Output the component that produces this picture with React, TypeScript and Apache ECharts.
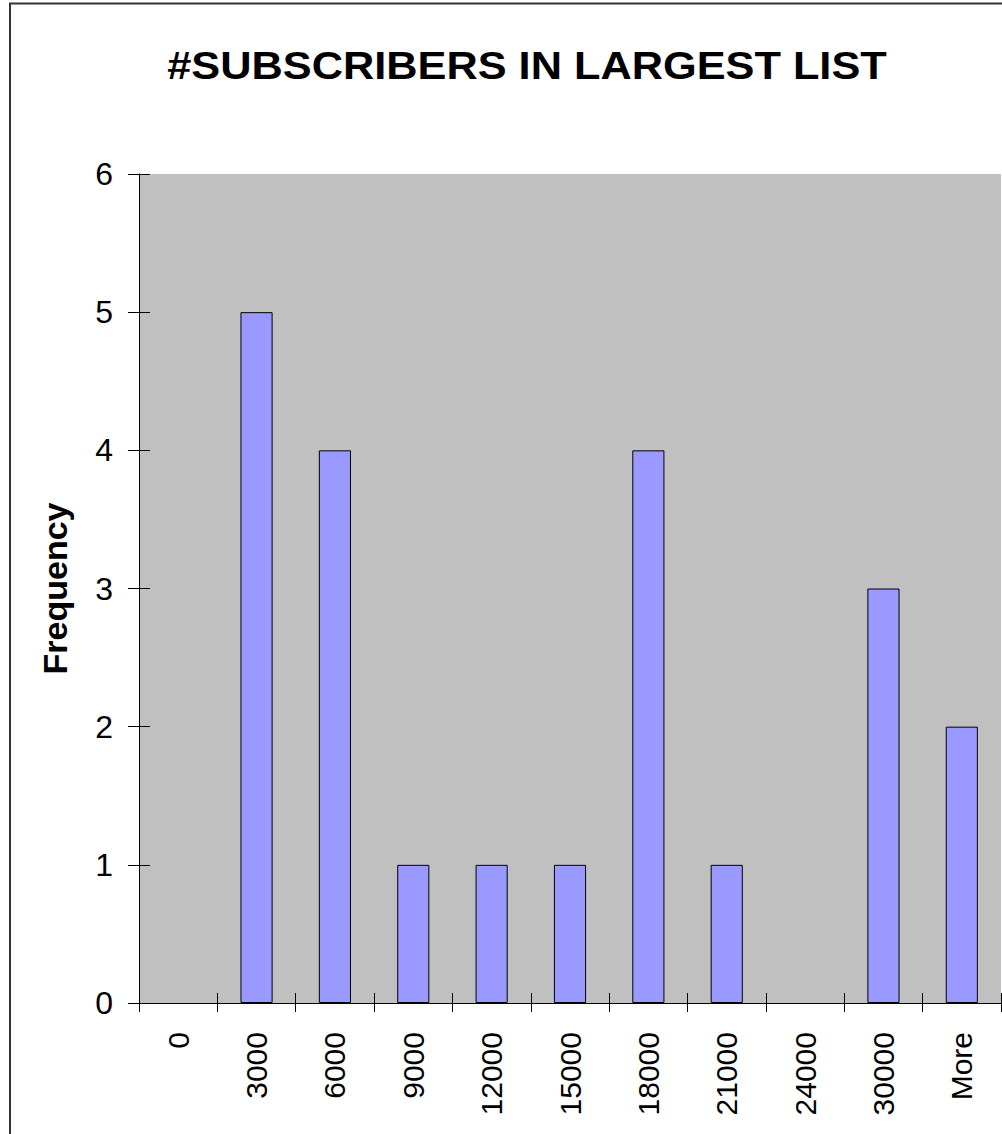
import React, { useEffect, useRef } from "react";
import * as echarts from "echarts";

const categories = ["0", "3000", "6000", "9000", "12000", "15000", "18000", "21000", "24000", "30000", "More"];
const frequency = [0, 5, 4, 1, 1, 1, 4, 1, 0, 3, 2];
const yMin = 0;
const yMax = 6;
const yInterval = 1;
const titleText = "#SUBSCRIBERS IN LARGEST LIST";
const yAxisName = "Frequency";

export default function App() {
  const ref = useRef<HTMLDivElement>(null);
  useEffect(() => {
    const chart = echarts.init(ref.current!, null, { renderer: "svg" });
    const font = "'Liberation Sans', Arial, sans-serif";
    chart.setOption({
      animation: false,
      backgroundColor: "#ffffff",
      grid: {
        left: 139,
        right: 1,
        top: 174,
        bottom: 131,
        show: true,
        backgroundColor: "#C0C0C0",
        borderWidth: 0,
      },
      xAxis: [
        {
          type: "category",
          data: categories,
          position: "bottom",
          boundaryGap: true,
          axisLine: { show: true, lineStyle: { color: "#000", width: 1 } },
          axisTick: { show: true, length: 9, lineStyle: { color: "#000", width: 1 } },
          axisLabel: {
            rotate: 90,
            margin: 29,
            interval: 0,
            fontSize: 30,
            color: "#000",
            fontFamily: font,
          },
          splitLine: { show: false },
        },
        {
          type: "category",
          data: categories,
          position: "bottom",
          boundaryGap: true,
          axisLine: { show: false },
          axisTick: { show: true, inside: true, length: 10, lineStyle: { color: "#000", width: 1 } },
          axisLabel: { show: false },
          splitLine: { show: false },
        },
      ],
      yAxis: [
        {
          type: "value",
          position: "left",
          min: yMin,
          max: yMax,
          interval: yInterval,
          axisLine: { show: true, lineStyle: { color: "#000", width: 1 } },
          axisTick: { show: true, length: 11, lineStyle: { color: "#000", width: 1 } },
          axisLabel: { margin: 26, fontSize: 32, color: "#000", fontFamily: font },
          splitLine: { show: false },
          name: yAxisName,
          nameLocation: "middle",
          nameRotate: 90,
          nameGap: 67,
          nameTextStyle: { fontSize: 34, fontWeight: "bold", color: "#000", fontFamily: font },
        },
        {
          type: "value",
          position: "left",
          min: yMin,
          max: yMax,
          interval: yInterval,
          axisLine: { show: false },
          axisTick: { show: true, inside: true, length: 11, lineStyle: { color: "#000", width: 1 } },
          axisLabel: { show: false },
          splitLine: { show: false },
        },
      ],
      series: [
        {
          type: "bar",
          data: frequency.map((v) => ({
            value: v,
            itemStyle: v === 0 ? { borderWidth: 0, opacity: 0 } : undefined,
          })),
          xAxisIndex: 0,
          yAxisIndex: 0,
          barWidth: "41%",
          itemStyle: { color: "#9999FF", borderColor: "#000", borderWidth: 1 },
        },
      ],
      graphic: [
        {
          type: "rect",
          shape: { x: 10, y: 3.5, width: 1200, height: 1300 },
          style: { fill: "none", stroke: "#333", lineWidth: 2 },
          z: 100,
        },
        {
          type: "text",
          x: 527,
          y: 66,
          scaleX: 1.14,
          style: {
            text: titleText,
            fontSize: 38,
            fontWeight: "bold",
            fontFamily: font,
            fill: "#000",
            align: "center",
            verticalAlign: "middle",
          },
        },
      ],
    });
    return () => chart.dispose();
  }, []);
  return (
    <div
      ref={ref}
      style={{ position: "absolute", left: 0, top: 0, width: 1002, height: 1134 }}
    />
  );
}
